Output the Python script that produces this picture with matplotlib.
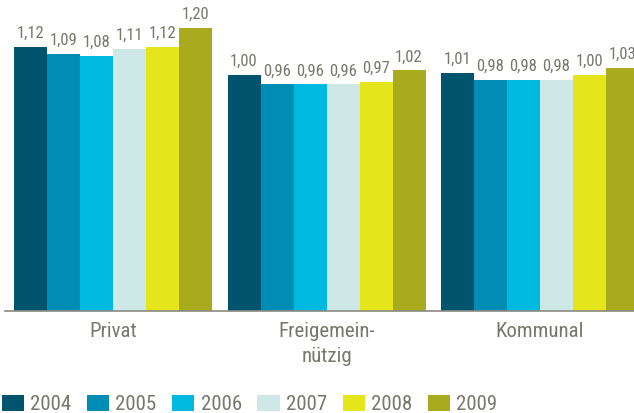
import matplotlib
matplotlib.use('Agg')
import matplotlib.pyplot as plt
import numpy as np

# Daten
kategorien = ['Privat', 'Freigemein-\nnützig', 'Kommunal']
jahre = ['2004', '2005', '2006', '2007', '2008', '2009']
werte = {
    '2004': [1.12, 1.00, 1.01],
    '2005': [1.09, 0.96, 0.98],
    '2006': [1.08, 0.96, 0.98],
    '2007': [1.11, 0.96, 0.98],
    '2008': [1.12, 0.97, 1.00],
    '2009': [1.20, 1.02, 1.03],
}
farben = ['#00546E', '#008DB5', '#00B9E0', '#CDE8E6', '#E5E51C', '#A8AB1E']

textfarbe = '#77776c'
plt.rcParams['font.family'] = ['Roboto Condensed', 'Roboto', 'DejaVu Sans']

fig = plt.figure(figsize=(6.34, 4.13), dpi=100)
ax = fig.add_axes([5 / 634, 102 / 413, 1 - 5 / 634, 1 - 102 / 413])

x = np.arange(len(kategorien))
w = 33 / 213.5
for i, j in enumerate(jahre):
    pos = x + (i - 2.5) * w
    bars = ax.bar(pos, werte[j], width=w, color=farben[i], linewidth=0, label=j)
    for b, v in zip(bars, werte[j]):
        ax.text(b.get_x() + b.get_width() / 2, v + 0.025, f'{v:.2f}'.replace('.', ','),
                ha='center', va='bottom', fontsize=12, color=textfarbe)

ax.set_xlim(-0.506, 2.44)
ax.set_ylim(0, 311 / 236)
ax.set_yticks([])
ax.set_xticks(x)
ax.set_xticklabels(kategorien, fontsize=15, color=textfarbe, linespacing=1.4)
ax.tick_params(axis='x', length=0, pad=8)
for s in ['top', 'right', 'left']:
    ax.spines[s].set_visible(False)
ax.spines['bottom'].set_color('#8a8a80')
ax.spines['bottom'].set_linewidth(1.2)

fig.legend(loc='lower left', bbox_to_anchor=(0.0, -0.008), ncol=6, frameon=False,
           fontsize=15, handlelength=1.06, handleheight=0.82, handletextpad=0.3,
           columnspacing=0.75, borderpad=0.1, borderaxespad=0.0, labelcolor=textfarbe)

fig.savefig('out.png', dpi=100)
